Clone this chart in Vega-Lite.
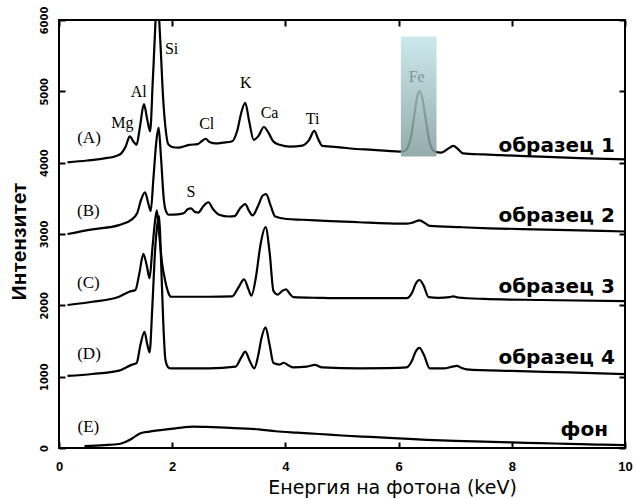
{
  "$schema": "https://vega.github.io/schema/vega-lite/v6.json",
  "width": 566,
  "height": 428,
  "autosize": "none",
  "padding": {"left": 59, "top": 20, "right": 9, "bottom": 51},
  "background": "white",
  "config": {
    "view": {"stroke": "black", "strokeWidth": 2},
    "axis": {"grid": false, "domain": false, "tickColor": "black", "tickWidth": 2, "labelColor": "black", "titleColor": "black", "zindex": 1}
  },
  "datasets": {
    "spectra": [
      {"s":"A","x":0.15,"y":4005},{"s":"A","x":0.5,"y":4030},{"s":"A","x":0.8,"y":4060},{"s":"A","x":1.0,"y":4090},{"s":"A","x":1.1,"y":4130},{"s":"A","x":1.18,"y":4230},{"s":"A","x":1.25,"y":4370},{"s":"A","x":1.32,"y":4290},{"s":"A","x":1.37,"y":4250},{"s":"A","x":1.43,"y":4500},{"s":"A","x":1.5,"y":4820},{"s":"A","x":1.56,"y":4600},{"s":"A","x":1.61,"y":4440},{"s":"A","x":1.66,"y":5200},{"s":"A","x":1.74,"y":6300},{"s":"A","x":1.79,"y":5700},{"s":"A","x":1.84,"y":4900},{"s":"A","x":1.88,"y":4500},{"s":"A","x":1.93,"y":4260},{"s":"A","x":2.0,"y":4220},{"s":"A","x":2.1,"y":4210},{"s":"A","x":2.3,"y":4250},{"s":"A","x":2.45,"y":4260},{"s":"A","x":2.52,"y":4300},{"s":"A","x":2.59,"y":4335},{"s":"A","x":2.66,"y":4290},{"s":"A","x":2.77,"y":4270},{"s":"A","x":2.9,"y":4280},{"s":"A","x":3.06,"y":4300},{"s":"A","x":3.15,"y":4450},{"s":"A","x":3.22,"y":4700},{"s":"A","x":3.29,"y":4840},{"s":"A","x":3.36,"y":4580},{"s":"A","x":3.44,"y":4320},{"s":"A","x":3.52,"y":4370},{"s":"A","x":3.62,"y":4500},{"s":"A","x":3.7,"y":4420},{"s":"A","x":3.79,"y":4295},{"s":"A","x":3.9,"y":4250},{"s":"A","x":4.08,"y":4225},{"s":"A","x":4.3,"y":4240},{"s":"A","x":4.42,"y":4320},{"s":"A","x":4.51,"y":4445},{"s":"A","x":4.58,"y":4330},{"s":"A","x":4.65,"y":4235},{"s":"A","x":4.8,"y":4225},{"s":"A","x":4.96,"y":4215},{"s":"A","x":5.2,"y":4195},{"s":"A","x":5.55,"y":4180},{"s":"A","x":5.8,"y":4165},{"s":"A","x":6.02,"y":4155},{"s":"A","x":6.1,"y":4160},{"s":"A","x":6.2,"y":4300},{"s":"A","x":6.27,"y":4620},{"s":"A","x":6.33,"y":4930},{"s":"A","x":6.37,"y":5000},{"s":"A","x":6.42,"y":4900},{"s":"A","x":6.48,"y":4600},{"s":"A","x":6.55,"y":4280},{"s":"A","x":6.63,"y":4160},{"s":"A","x":6.75,"y":4140},{"s":"A","x":6.9,"y":4210},{"s":"A","x":6.97,"y":4235},{"s":"A","x":7.05,"y":4190},{"s":"A","x":7.14,"y":4130},{"s":"A","x":7.5,"y":4115},{"s":"A","x":7.8,"y":4105},{"s":"A","x":8.5,"y":4085},{"s":"A","x":9.2,"y":4065},{"s":"A","x":10,"y":4045},
      {"s":"B","x":0.15,"y":3000},{"s":"B","x":0.59,"y":3065},{"s":"B","x":1.06,"y":3125},{"s":"B","x":1.27,"y":3195},{"s":"B","x":1.38,"y":3290},{"s":"B","x":1.45,"y":3480},{"s":"B","x":1.52,"y":3585},{"s":"B","x":1.58,"y":3420},{"s":"B","x":1.62,"y":3320},{"s":"B","x":1.67,"y":3800},{"s":"B","x":1.72,"y":4300},{"s":"B","x":1.76,"y":4490},{"s":"B","x":1.8,"y":4100},{"s":"B","x":1.85,"y":3500},{"s":"B","x":1.89,"y":3320},{"s":"B","x":1.94,"y":3270},{"s":"B","x":2.1,"y":3275},{"s":"B","x":2.2,"y":3290},{"s":"B","x":2.28,"y":3350},{"s":"B","x":2.33,"y":3360},{"s":"B","x":2.4,"y":3310},{"s":"B","x":2.46,"y":3300},{"s":"B","x":2.55,"y":3390},{"s":"B","x":2.64,"y":3445},{"s":"B","x":2.72,"y":3350},{"s":"B","x":2.83,"y":3270},{"s":"B","x":3.0,"y":3245},{"s":"B","x":3.1,"y":3250},{"s":"B","x":3.2,"y":3360},{"s":"B","x":3.29,"y":3420},{"s":"B","x":3.36,"y":3320},{"s":"B","x":3.42,"y":3260},{"s":"B","x":3.52,"y":3400},{"s":"B","x":3.6,"y":3540},{"s":"B","x":3.66,"y":3560},{"s":"B","x":3.73,"y":3420},{"s":"B","x":3.82,"y":3245},{"s":"B","x":4.02,"y":3210},{"s":"B","x":4.3,"y":3200},{"s":"B","x":4.8,"y":3180},{"s":"B","x":5.3,"y":3165},{"s":"B","x":5.8,"y":3150},{"s":"B","x":6.14,"y":3145},{"s":"B","x":6.25,"y":3160},{"s":"B","x":6.37,"y":3190},{"s":"B","x":6.47,"y":3150},{"s":"B","x":6.55,"y":3115},{"s":"B","x":7.1,"y":3095},{"s":"B","x":7.6,"y":3080},{"s":"B","x":8.4,"y":3065},{"s":"B","x":9.2,"y":3050},{"s":"B","x":10,"y":3035},
      {"s":"C","x":0.15,"y":2005},{"s":"C","x":0.59,"y":2050},{"s":"C","x":1.06,"y":2120},{"s":"C","x":1.24,"y":2190},{"s":"C","x":1.35,"y":2215},{"s":"C","x":1.42,"y":2450},{"s":"C","x":1.49,"y":2720},{"s":"C","x":1.55,"y":2560},{"s":"C","x":1.6,"y":2380},{"s":"C","x":1.65,"y":2800},{"s":"C","x":1.7,"y":3200},{"s":"C","x":1.73,"y":3330},{"s":"C","x":1.77,"y":3000},{"s":"C","x":1.82,"y":2600},{"s":"C","x":1.88,"y":2330},{"s":"C","x":1.93,"y":2180},{"s":"C","x":1.98,"y":2120},{"s":"C","x":2.3,"y":2120},{"s":"C","x":2.65,"y":2120},{"s":"C","x":3.06,"y":2125},{"s":"C","x":3.17,"y":2250},{"s":"C","x":3.27,"y":2365},{"s":"C","x":3.35,"y":2220},{"s":"C","x":3.4,"y":2135},{"s":"C","x":3.48,"y":2400},{"s":"C","x":3.56,"y":2850},{"s":"C","x":3.65,"y":3095},{"s":"C","x":3.72,"y":2750},{"s":"C","x":3.79,"y":2200},{"s":"C","x":3.86,"y":2150},{"s":"C","x":3.94,"y":2200},{"s":"C","x":4.01,"y":2225},{"s":"C","x":4.08,"y":2160},{"s":"C","x":4.14,"y":2115},{"s":"C","x":4.6,"y":2105},{"s":"C","x":5.02,"y":2100},{"s":"C","x":5.6,"y":2100},{"s":"C","x":6.14,"y":2100},{"s":"C","x":6.24,"y":2180},{"s":"C","x":6.3,"y":2300},{"s":"C","x":6.37,"y":2355},{"s":"C","x":6.44,"y":2280},{"s":"C","x":6.53,"y":2115},{"s":"C","x":6.7,"y":2105},{"s":"C","x":6.9,"y":2115},{"s":"C","x":6.97,"y":2125},{"s":"C","x":7.05,"y":2110},{"s":"C","x":7.5,"y":2090},{"s":"C","x":8.5,"y":2075},{"s":"C","x":10,"y":2060},
      {"s":"D","x":0.15,"y":1010},{"s":"D","x":0.59,"y":1037},{"s":"D","x":1.06,"y":1085},{"s":"D","x":1.28,"y":1165},{"s":"D","x":1.37,"y":1190},{"s":"D","x":1.44,"y":1450},{"s":"D","x":1.51,"y":1630},{"s":"D","x":1.56,"y":1450},{"s":"D","x":1.6,"y":1340},{"s":"D","x":1.65,"y":2000},{"s":"D","x":1.7,"y":2800},{"s":"D","x":1.74,"y":3150},{"s":"D","x":1.77,"y":3250},{"s":"D","x":1.8,"y":2700},{"s":"D","x":1.84,"y":1800},{"s":"D","x":1.88,"y":1240},{"s":"D","x":1.93,"y":1130},{"s":"D","x":1.97,"y":1117},{"s":"D","x":2.3,"y":1117},{"s":"D","x":2.65,"y":1117},{"s":"D","x":3.12,"y":1140},{"s":"D","x":3.22,"y":1270},{"s":"D","x":3.29,"y":1350},{"s":"D","x":3.37,"y":1220},{"s":"D","x":3.45,"y":1117},{"s":"D","x":3.52,"y":1300},{"s":"D","x":3.58,"y":1550},{"s":"D","x":3.65,"y":1690},{"s":"D","x":3.72,"y":1450},{"s":"D","x":3.79,"y":1190},{"s":"D","x":3.9,"y":1170},{"s":"D","x":3.97,"y":1195},{"s":"D","x":4.05,"y":1160},{"s":"D","x":4.14,"y":1130},{"s":"D","x":4.38,"y":1140},{"s":"D","x":4.52,"y":1165},{"s":"D","x":4.65,"y":1130},{"s":"D","x":5.32,"y":1117},{"s":"D","x":5.8,"y":1120},{"s":"D","x":6.14,"y":1130},{"s":"D","x":6.24,"y":1230},{"s":"D","x":6.3,"y":1350},{"s":"D","x":6.37,"y":1405},{"s":"D","x":6.45,"y":1300},{"s":"D","x":6.55,"y":1117},{"s":"D","x":6.8,"y":1115},{"s":"D","x":6.95,"y":1140},{"s":"D","x":7.03,"y":1150},{"s":"D","x":7.12,"y":1120},{"s":"D","x":7.2,"y":1103},{"s":"D","x":8,"y":1080},{"s":"D","x":9,"y":1060},{"s":"D","x":10,"y":1037},
      {"s":"E","x":0.45,"y":28},{"s":"E","x":0.8,"y":40},{"s":"E","x":1.06,"y":56},{"s":"E","x":1.2,"y":95},{"s":"E","x":1.27,"y":122},{"s":"E","x":1.36,"y":170},{"s":"E","x":1.44,"y":206},{"s":"E","x":1.6,"y":230},{"s":"E","x":1.71,"y":243},{"s":"E","x":1.9,"y":262},{"s":"E","x":2.06,"y":276},{"s":"E","x":2.2,"y":290},{"s":"E","x":2.36,"y":300},{"s":"E","x":2.6,"y":295},{"s":"E","x":2.94,"y":285},{"s":"E","x":3.2,"y":275},{"s":"E","x":3.53,"y":262},{"s":"E","x":3.83,"y":235},{"s":"E","x":4.2,"y":215},{"s":"E","x":4.6,"y":196},{"s":"E","x":5.0,"y":175},{"s":"E","x":5.5,"y":155},{"s":"E","x":6.0,"y":135},{"s":"E","x":6.5,"y":115},{"s":"E","x":7.0,"y":100},{"s":"E","x":7.5,"y":88},{"s":"E","x":8.0,"y":78},{"s":"E","x":8.5,"y":68},{"s":"E","x":9.0,"y":58},{"s":"E","x":9.5,"y":48},{"s":"E","x":10,"y":40}
    ],
    "box": [{"x": 6.04, "x2": 6.67, "y": 4085, "y2": 5767}],
    "elements": [
      {"el":"Mg","x":1.12,"y":4561},{"el":"Al","x":1.41,"y":4987},{"el":"Si","x":1.99,"y":5594},{"el":"Cl","x":2.61,"y":4538},{"el":"K","x":3.3,"y":5113},{"el":"Ca","x":3.72,"y":4701},{"el":"Ti","x":4.48,"y":4608},{"el":"Fe","x":6.32,"y":5197},{"el":"S","x":2.33,"y":3594}
    ],
    "series": [
      {"t":"(A)","x":0.53,"y":4351},{"t":"(B)","x":0.52,"y":3323},{"t":"(C)","x":0.52,"y":2318},{"t":"(D)","x":0.53,"y":1313},{"t":"(E)","x":0.52,"y":299}
    ],
    "samples": [
      {"t":"образец 1","x":9.82,"y":4154},{"t":"образец 2","x":9.82,"y":3173},{"t":"образец 3","x":9.82,"y":2173},{"t":"образец 4","x":9.82,"y":1180},{"t":"фон","x":9.7,"y":170}
    ]
  },
  "layer": [
    {
      "data": {"name": "spectra"},
      "mark": {"type": "line", "color": "black", "strokeWidth": 2.2, "clip": true, "interpolate": "monotone"},
      "encoding": {
        "x": {"field": "x", "type": "quantitative", "scale": {"domain": [0, 10], "nice": false},
          "axis": {"orient": "bottom", "values": [0,2,4,6,8,10], "format": "d", "tickSize": -6, "labelFont": "Liberation Sans", "labelFontWeight": "bold", "labelFontSize": 13, "labelPadding": 18, "labelFlush": false,
            "title": "Енергия на фотона (keV)", "titleFont": "DejaVu Sans", "titleFontSize": 19, "titleFontWeight": "normal", "titleX": 333, "titleY": 45, "titleBaseline": "alphabetic"}},
        "y": {"field": "y", "type": "quantitative", "scale": {"domain": [0, 6000], "nice": false},
          "axis": {"orient": "left", "values": [0,1000,2000,3000,4000,5000,6000], "format": "d", "tickSize": -6, "labelAngle": -90, "labelAlign": "center", "labelBaseline": "alphabetic", "labelFont": "DejaVu Sans Condensed", "labelFontWeight": "bold", "labelFontSize": 11, "labelPadding": 18,
            "title": "Интензитет", "titleFont": "Liberation Sans", "titleFontSize": 21, "titleFontWeight": "bold", "titleAngle": -90, "titleX": -34, "titleY": 221, "titleBaseline": "alphabetic", "titleAlign": "center"}},
        "detail": {"field": "s", "type": "nominal"}
      }
    },
    {
      "data": {"name": "box"},
      "mark": {"type": "rect", "opacity": 0.85, "fill": {"gradient": "linear", "x1": 0, "y1": 0, "x2": 0, "y2": 1, "stops": [{"offset": 0, "color": "#c4e4e9"}, {"offset": 1, "color": "#819d9e"}]}},
      "encoding": {
        "x": {"field": "x", "type": "quantitative", "axis": {"orient": "top", "values": [0,2,4,6,8,10], "labels": false, "tickSize": -6, "title": null}},
        "x2": {"field": "x2"},
        "y": {"field": "y", "type": "quantitative", "axis": {"orient": "right", "values": [0,1000,2000,3000,4000,5000,6000], "labels": false, "tickSize": -6, "title": null}},
        "y2": {"field": "y2"}
      }
    },
    {
      "data": {"name": "elements"},
      "mark": {"type": "text", "font": "Liberation Serif", "fontSize": 16, "align": "center", "baseline": "middle"},
      "encoding": {
        "x": {"field": "x", "type": "quantitative", "axis": null},
        "y": {"field": "y", "type": "quantitative", "axis": null},
        "text": {"field": "el"},
        "color": {"condition": {"test": "datum.el === 'Fe'", "value": "#7f9597"}, "value": "black"}
      }
    },
    {
      "data": {"name": "series"},
      "mark": {"type": "text", "font": "Liberation Serif", "fontSize": 17, "align": "center", "baseline": "middle", "color": "black"},
      "encoding": {
        "x": {"field": "x", "type": "quantitative", "axis": null},
        "y": {"field": "y", "type": "quantitative", "axis": null},
        "text": {"field": "t"}
      }
    },
    {
      "data": {"name": "samples"},
      "mark": {"type": "text", "font": "DejaVu Sans", "fontWeight": "bold", "fontSize": 20, "align": "right", "baseline": "alphabetic", "color": "black"},
      "encoding": {
        "x": {"field": "x", "type": "quantitative", "axis": null},
        "y": {"field": "y", "type": "quantitative", "axis": null},
        "text": {"field": "t"}
      }
    }
  ],
  "resolve": {"axis": {"x": "independent", "y": "independent"}}
}
